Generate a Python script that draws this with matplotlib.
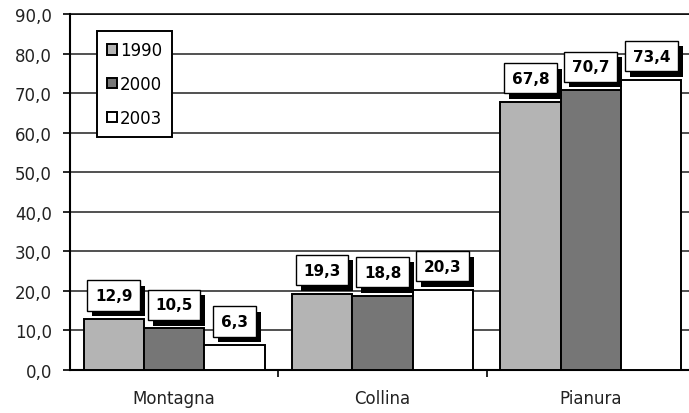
import matplotlib.pyplot as plt
import matplotlib.patheffects as pe
import numpy as np

# data
categories = ['Montagna', 'Collina', 'Pianura']
years = ['1990', '2000', '2003']
v1990 = [12.9, 19.3, 67.8]
v2000 = [10.5, 18.8, 70.7]
v2003 = [6.3, 20.3, 73.4]
yticks = [0, 10, 20, 30, 40, 50, 60, 70, 80, 90]

series = [v1990, v2000, v2003]
colors = ['#b4b4b4', '#767676', 'white']

fig = plt.figure(figsize=(6.89, 4.14), dpi=100)
ax = fig.add_axes([70 / 689, 43 / 414, 625 / 689, 356 / 414])

x = np.arange(len(categories))
w = 0.29
for i, (vals, col, yr) in enumerate(zip(series, colors, years)):
    pos = x + (i - 1) * w
    ax.bar(pos, vals, width=w, color=col, edgecolor='black', linewidth=1.4,
           label=yr, zorder=3)
    for xp, v in zip(pos, vals):
        t = ax.annotate(f'{v:.1f}'.replace('.', ','), xy=(xp, v),
                        xytext=(0, 17), textcoords='offset points',
                        ha='center', va='center', fontsize=11,
                        fontweight='bold', zorder=5,
                        bbox=dict(boxstyle='square,pad=0.5', fc='white',
                                  ec='black', lw=1.0))
        t.get_bbox_patch().set_path_effects(
            [pe.SimplePatchShadow(offset=(3.5, -4), shadow_rgbFace='black',
                                  alpha=1.0), pe.Normal()])

ax.set_xlim(-0.5, 2.5)
ax.set_ylim(0, 90)
ax.set_yticks(yticks)
ax.set_yticklabels([f'{v:.1f}'.replace('.', ',') for v in yticks],
                   fontsize=12, color='#222222')
ax.set_xticks(x)
ax.set_xticklabels(categories, fontsize=12, color='#222222')
ax.set_xticks([0.5, 1.5], minor=True)
ax.tick_params(axis='x', which='major', length=0, pad=14)
ax.tick_params(axis='x', which='minor', length=5, direction='out', width=1.2)
ax.tick_params(axis='y', length=5, direction='out', width=1.2, pad=8)

ax.grid(axis='y', color='#222222', linewidth=1.1, zorder=0)
ax.set_axisbelow(True)
for s in ['left', 'bottom']:
    ax.spines[s].set_linewidth(1.5)
ax.spines['right'].set_visible(False)
ax.spines['top'].set_linewidth(1.1)

leg = ax.legend(loc='upper left', bbox_to_anchor=(0.043, 0.952),
                fontsize=12, frameon=True, fancybox=False,
                handlelength=0.6, handleheight=0.6, handletextpad=0.2,
                labelspacing=0.95, borderpad=0.6, borderaxespad=0)
leg.get_frame().set_edgecolor('black')
leg.get_frame().set_linewidth(1.4)
leg.get_frame().set_alpha(1)

fig.savefig('out.png', dpi=100)
